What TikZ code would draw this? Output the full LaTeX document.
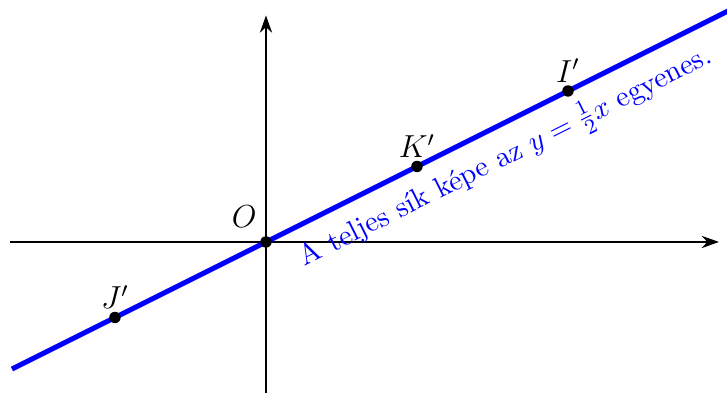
\documentclass[11pt,tikz,border=0pt]{standalone}
\usetikzlibrary{arrows.meta,positioning}
\begin{document}
\begin{tikzpicture}[
  axis/.style={thick,-{Stealth[length=6.5pt,width=4.6pt]}},
  image/.style={blue,line width=1.9pt},
  pointdot/.style={circle,fill=black,inner sep=0pt,minimum size=4.3pt},
  lbl/.style={font=\large}
]
\useasboundingbox (-3.523,-2.0) rectangle (6.106,3.205);
\begin{scope}
\clip (-3.523,-2.0) rectangle (6.106,3.205);
\coordinate (xs) at (-3.39,0);
\coordinate (xe) at (6.0,0);
\coordinate (ys) at (0,-2.1);
\coordinate (ye) at (0,3.0);
\draw[axis] (xs) -- (xe);
\draw[axis] (ys) -- (ye);
\coordinate (ls) at (-3.365,-1.6825);
\coordinate (le) at (6.6,3.3);
\draw[image] (ls) -- (le);
\node[pointdot] (O) at (0,0) {};
\node[pointdot] (J) at (-2,-1) {};
\node[pointdot] (K) at (2,1) {};
\node[pointdot] (I) at (4,2) {};
\node[lbl,above left=0pt and -2pt of O] (Ol) {$O$};
\node[lbl,above=-3pt of J] (Jl) {$J'$};
\node[lbl,above=-3pt of K] (Kl) {$K'$};
\node[lbl,above=-3pt of I] (Il) {$I'$};
\node[blue,anchor=base,rotate=26.565] (txt) at (3.22,1.03) {A teljes sík képe az $y=\frac{1}{2}x$ egyenes.};
\end{scope}
\end{tikzpicture}
\end{document}
